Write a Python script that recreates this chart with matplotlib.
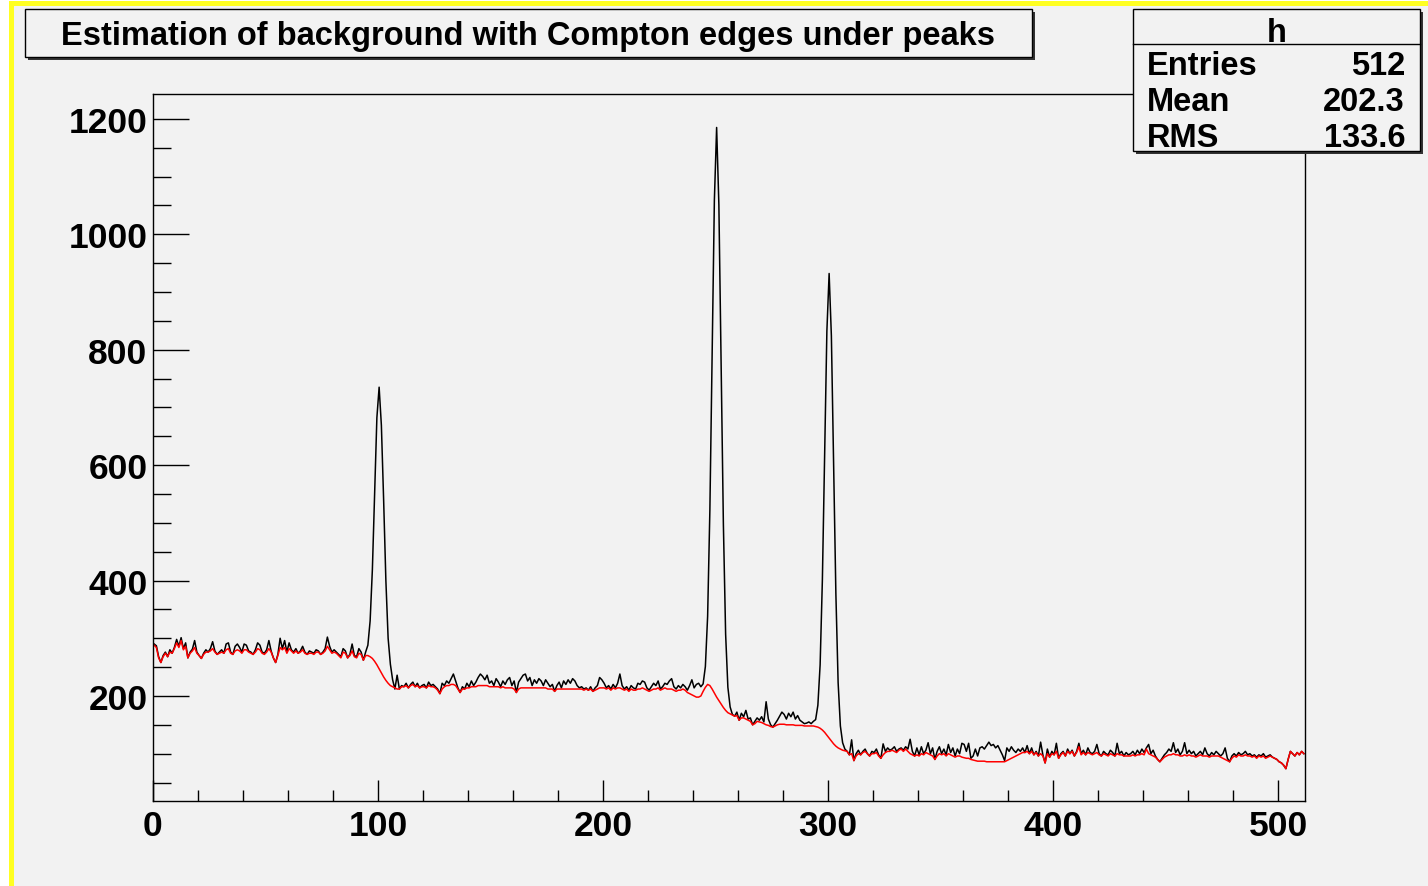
import numpy as np
import matplotlib.pyplot as plt
from matplotlib.patches import Rectangle
from matplotlib.ticker import MultipleLocator

plt.rcParams['font.family'] = ['Liberation Sans', 'DejaVu Sans']
plt.rcParams['font.weight'] = 'bold'

# spectrum (black), split into pieces
flat_left = [290, 287, 268, 258, 270, 276, 268, 280, 274, 284,
             298, 286, 301, 282, 292, 266, 276, 281, 296, 276,
             270, 265, 274, 280, 276, 282, 294, 278, 272, 276,
             280, 274, 290, 292, 276, 272, 286, 290, 284, 276,
             290, 288, 278, 276, 272, 280, 292, 288, 276, 274,
             280, 296, 278, 266, 258, 272, 300, 282, 296, 276,
             292, 280, 276, 282, 274, 278, 286, 276, 272, 278,
             276, 274, 280, 278, 272, 276, 282, 302, 286, 276,
             280, 276, 272, 268, 282, 278, 266, 272, 290, 270,
             268, 282, 276, 262]
peak_100 = [276, 288, 330, 419, 552, 682, 735, 669, 540, 400, 300, 255, 228, 212, 236]
flat_mid = [212, 218, 216, 222, 214, 220, 224, 216, 222, 214, 218,
            220, 214, 224, 218, 220, 216, 212, 204, 222, 218,
            226, 222, 230, 238, 226, 214, 206, 216, 212, 222,
            216, 226, 218, 224, 232, 238, 234, 228, 236, 222,
            226, 218, 230, 224, 216, 226, 220, 228, 232, 218,
            226, 206, 224, 230, 236, 238, 226, 232, 218, 228,
            222, 230, 226, 218, 228, 222, 216, 220, 208, 218,
            224, 214, 226, 220, 228, 222, 230, 226, 218, 214,
            216, 212, 214, 210, 216, 208, 214, 218, 232, 228,
            222, 214, 218, 212, 220, 214, 222, 238, 218, 212,
            216, 210, 218, 214, 212, 222, 220, 226, 224, 214,
            210, 216, 222, 218, 226, 212, 216, 222, 220, 226,
            230, 216, 212, 218, 214, 220, 216, 210, 218, 228,
            214, 220, 222, 216]
peak_250 = [221, 251, 338, 522, 794, 1059, 1185, 1051, 778, 498, 307, 215, 181]
flat_step = [168, 165, 172, 158, 170, 164, 175, 160, 162, 150,
             156, 162, 158, 164, 155, 190, 160, 150, 146, 152,
             158, 165, 172, 168, 160, 170, 164, 172, 160, 166,
             158, 155, 152, 153, 155, 152, 156]
peak_300 = [159, 184, 254, 401, 619, 832, 932, 824, 603, 377, 223, 148, 119, 108]
flat_right = [104, 98, 124, 88, 100, 106, 98, 104, 108, 100, 96, 104,
              102, 108, 98, 92, 117, 104, 110, 106, 108, 112,
              104, 108, 110, 106, 112, 108, 125, 104, 96, 110,
              98, 112, 100, 106, 119, 100, 110, 90, 104, 112,
              100, 108, 98, 116, 102, 110, 96, 108, 100, 118,
              116, 104, 118, 92, 96, 108, 96, 110, 112, 108,
              114, 120, 114, 116, 110, 114, 106, 98, 88, 110,
              104, 112, 106, 102, 108, 104, 110, 102, 114, 100,
              110, 98, 104, 96, 120, 98, 84, 108, 94, 104,
              98, 118, 92, 100, 104, 96, 108, 100, 106, 96,
              104, 118, 100, 106, 98, 110, 102, 100, 104, 116,
              100, 96, 104, 100, 98, 106, 102, 96, 118, 100,
              104, 96, 102, 98, 100, 104, 98, 106, 100, 108,
              102, 110, 116, 100, 106, 96, 90, 86, 92, 98,
              102, 108, 104, 119, 102, 108, 98, 104, 119, 100,
              106, 100, 104, 96, 100, 104, 98, 110, 100, 96,
              102, 98, 104, 100, 96, 100, 110, 92, 86, 96,
              100, 96, 102, 98, 100, 104, 98, 100, 96, 98,
              94, 98, 96, 100, 94, 96, 98, 94, 92, 90,
              86, 84, 80, 74, 90, 104, 100, 96, 102, 98, 104, 100]

# estimated background (red)
bg_left = [288, 284, 266, 258, 268, 274, 268, 276, 274, 282,
           292, 284, 296, 280, 286, 266, 274, 278, 284, 274,
           270, 265, 272, 276, 276, 278, 282, 276, 272, 274,
           276, 274, 280, 282, 274, 272, 278, 280, 278, 274,
           280, 280, 276, 274, 272, 276, 282, 280, 274, 272,
           276, 282, 276, 266, 258, 270, 284, 280, 284, 274,
           282, 278, 274, 278, 274, 276, 280, 274, 272, 274,
           274, 272, 276, 276, 272, 274, 278, 286, 280, 274,
           276, 274, 270, 266, 276, 274, 266, 270, 278, 268,
           266, 274, 272, 262]
bg_edge_100 = [270, 270, 268, 265, 260, 254, 247, 240, 233, 227, 222, 218, 216, 214, 212]
bg_mid = [212, 216, 216, 218, 214, 218, 220, 216, 218, 214, 216,
          216, 214, 218, 216, 216, 214, 210, 204, 212, 216,
          218, 218, 220, 220, 218, 212, 206, 212, 212, 214,
          214, 216, 216, 216, 218, 218, 218, 218, 218, 216,
          216, 216, 216, 216, 214, 216, 214, 214, 214, 214,
          212, 206, 212, 214, 214, 214, 214, 214, 214, 214,
          214, 214, 214, 214, 214, 212, 212, 212, 208, 212,
          212, 212, 212, 212, 212, 212, 212, 212, 212, 212,
          212, 210, 212, 210, 212, 208, 210, 212, 214, 214,
          214, 212, 214, 210, 214, 212, 214, 214, 212, 210,
          212, 208, 212, 210, 210, 212, 212, 214, 212, 210,
          208, 210, 212, 212, 214, 210, 212, 214, 212, 212,
          212, 210, 208, 210, 210, 212, 210, 206, 204, 202,
          200, 198, 198, 200]
bg_edge_250 = [208, 215, 220, 218, 212, 205, 198, 192, 186, 180, 175, 171, 169]
bg_step = [167, 165, 166, 158, 162, 162, 160, 158, 156, 150,
           152, 156, 155, 154, 152, 150, 149, 147, 146, 148,
           150, 151, 151, 151, 150, 150, 150, 150, 149, 149,
           149, 149, 148, 148, 148, 148, 148]
bg_edge_300 = [147, 146, 144, 141, 137, 132, 127, 122, 117, 113, 110, 108, 106, 105]
bg_right = [104, 98, 100, 88, 96, 100, 98, 102, 104, 100, 96, 100,
            100, 102, 96, 92, 98, 102, 104, 104, 106, 104,
            102, 106, 108, 104, 108, 104, 100, 98, 96, 98,
            96, 100, 98, 102, 100, 98, 96, 90, 96, 100,
            98, 100, 96, 100, 98, 96, 94, 96, 96, 94,
            93, 92, 92, 90, 89, 88, 87, 87, 87, 87,
            86, 86, 86, 86, 86, 86, 86, 86, 86, 88,
            90, 92, 94, 96, 98, 100, 102, 102, 104, 100,
            104, 98, 102, 96, 100, 96, 84, 100, 94, 100,
            98, 104, 92, 98, 102, 96, 104, 100, 104, 96,
            102, 112, 98, 102, 98, 102, 100, 98, 100, 102,
            98, 96, 100, 98, 96, 100, 98, 96, 100, 98,
            98, 96, 96, 96, 96, 98, 96, 98, 98, 100,
            98, 108, 100, 98, 96, 94, 90, 86, 90, 94,
            96, 98, 98, 100, 98, 98, 96, 96, 98, 96,
            98, 96, 96, 94, 96, 98, 96, 96, 96, 94,
            96, 96, 96, 96, 94, 92, 90, 88, 86, 92,
            96, 94, 98, 96, 96, 98, 96, 96, 94, 96,
            92, 96, 94, 96, 92, 94, 96, 94, 92, 90,
            86, 84, 80, 74, 90, 104, 100, 96, 102, 98, 104, 100]

spectrum = flat_left + peak_100 + flat_mid + peak_250 + flat_step + peak_300 + flat_right
background = bg_left + bg_edge_100 + bg_mid + bg_edge_250 + bg_step + bg_edge_300 + bg_right
x_ticks = [0, 100, 200, 300, 400, 500]
y_ticks = [200, 400, 600, 800, 1000, 1200]
stats = [('Entries', '512'), ('Mean', '202.3'), ('RMS', '133.6')]

W, H = 1428, 887
fig = plt.figure(figsize=(W / 100, H / 100), dpi=100, facecolor='white')


def fx(px):
    return px / W


def fy(py):
    return 1 - py / H


# canvas background and the yellow frame on top / left (kept below the axes)
fig.patches.append(Rectangle((fx(12), 0), 1 - fx(12), fy(6), transform=fig.transFigure,
                             facecolor='#f2f2f2', edgecolor='none', zorder=-10))
fig.patches.append(Rectangle((fx(9), 0), 5 / W, fy(2), transform=fig.transFigure,
                             facecolor='#ffff22', edgecolor='none', zorder=-9))
fig.patches.append(Rectangle((fx(9), fy(7)), 1 - fx(9), 5 / H, transform=fig.transFigure,
                             facecolor='#ffff22', edgecolor='none', zorder=-9))

ax = fig.add_axes([fx(153), fy(802), (1305 - 153) / W, (802 - 95) / H])
ax.set_facecolor('#f2f2f2')

bins = np.arange(len(spectrum)) + 0.5
ax.plot(bins, spectrum, color='black', lw=1.1)
ax.plot(bins, background, color='red', lw=1.1)

ax.set_xlim(0, 512)
ax.set_ylim(18, 1243)
ax.set_xticks(x_ticks)
ax.set_yticks(y_ticks)
ax.xaxis.set_minor_locator(MultipleLocator(20))
ax.yaxis.set_minor_locator(MultipleLocator(50))
ax.tick_params(axis='both', which='both', direction='in', width=1, color='black',
               labelsize=25.5, top=False, right=False)
ax.tick_params(axis='x', which='major', length=15, pad=6)
ax.tick_params(axis='x', which='minor', length=8)
ax.tick_params(axis='y', which='major', length=26, pad=4)
ax.tick_params(axis='y', which='minor', length=13)
for s in ax.spines.values():
    s.set_linewidth(1)

# title box with shadow
fig.patches.append(Rectangle((fx(28), fy(61)), (1032 - 25) / W, (58 - 10) / H,
                             transform=fig.transFigure, facecolor='#333333', edgecolor='none', zorder=2))
fig.patches.append(Rectangle((fx(25), fy(58)), (1032 - 25) / W, (58 - 10) / H,
                             transform=fig.transFigure, facecolor='#f2f2f2', edgecolor='black',
                             lw=1, zorder=3))
fig.text(fx(528), fy(45), 'Estimation of background with Compton edges under peaks',
         ha='center', va='baseline', fontsize=23.5, fontweight='bold', zorder=4)

# stats box
fig.patches.append(Rectangle((fx(1136), fy(155)), (1420 - 1133) / W, (152 - 10) / H,
                             transform=fig.transFigure, facecolor='#333333', edgecolor='none', zorder=2))
fig.patches.append(Rectangle((fx(1133), fy(152)), (1420 - 1133) / W, (152 - 10) / H,
                             transform=fig.transFigure, facecolor='#f2f2f2', edgecolor='black',
                             lw=1, zorder=3))
fig.lines.append(plt.Line2D([fx(1133), fx(1420)], [fy(45), fy(45)], transform=fig.transFigure,
                            color='black', lw=1, zorder=4))
fig.text(fx(1277), fy(41.5), 'h', ha='center', va='baseline', fontsize=23.5,
         fontweight='bold', zorder=4)
for i, (name, val) in enumerate(stats):
    yb = 75 + 36 * i
    fig.text(fx(1147), fy(yb), name, ha='left', va='baseline', fontsize=23.5,
             fontweight='bold', zorder=4)
    fig.text(fx(1405), fy(yb), val, ha='right', va='baseline', fontsize=23.5,
             fontweight='bold', zorder=4)

fig.savefig('out.png', dpi=100, facecolor=fig.get_facecolor())
